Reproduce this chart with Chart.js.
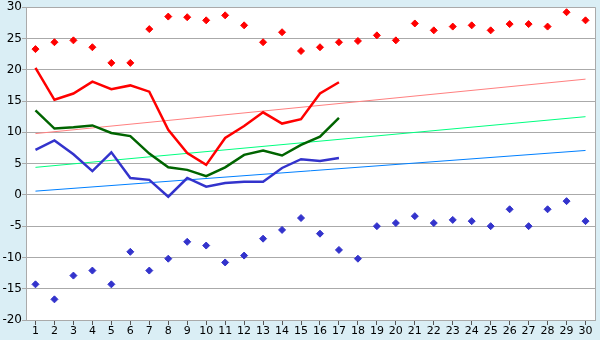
<!DOCTYPE html>
<html>
<head>
<meta charset="utf-8">
<script src="https://cdn.jsdelivr.net/npm/chart.js@4"></script>
<style>
  html, body { margin: 0; padding: 0; background: #daeef5; }
  #wrap { width: 600px; height: 340px; }
</style>
</head>
<body>
<div id="wrap"><canvas id="chart" width="600" height="340"></canvas></div>
<script>
// Days of the month
const days = ['1','2','3','4','5','6','7','8','9','10','11','12','13','14','15',
              '16','17','18','19','20','21','22','23','24','25','26','27','28','29','30'];

// Record highs / lows (diamonds)
const recordMax = [23.3, 24.4, 24.7, 23.6, 21.1, 21.1, 26.5, 28.5, 28.4, 27.9,
                   28.7, 27.1, 24.4, 26.0, 23.0, 23.6, 24.4, 24.6, 25.5, 24.7,
                   27.4, 26.3, 26.9, 27.1, 26.3, 27.3, 27.3, 26.9, 29.2, 27.9];
const recordMin = [-14.3, -16.7, -12.9, -12.1, -14.3, -9.1, -12.1, -10.2, -7.5, -8.1,
                   -10.8, -9.7, -7.0, -5.6, -3.7, -6.2, -8.8, -10.2, -5.0, -4.5,
                   -3.4, -4.5, -4.0, -4.2, -5.0, -2.3, -5.0, -2.3, -1.0, -4.2];

// Observed this month (days 1-17)
const tMax  = [20.3, 15.2, 16.2, 18.1, 16.9, 17.5, 16.5, 10.4, 6.7, 4.8,
               9.1, 11.0, 13.2, 11.4, 12.1, 16.2, 18.0];
const tMean = [13.5, 10.6, 10.8, 11.1, 9.9, 9.4, 6.6, 4.4, 4.0, 3.0,
               4.4, 6.4, 7.1, 6.3, 8.0, 9.3, 12.3];
const tMin  = [7.2, 8.7, 6.5, 3.8, 6.8, 2.7, 2.4, -0.3, 2.7, 1.3,
               1.9, 2.1, 2.1, 4.3, 5.7, 5.4, 5.9];

// Normal lines (value on day 1, value on day 30)
const normMax  = [9.8, 18.5];
const normMean = [4.4, 12.5];
const normMin  = [0.6, 7.1];

const yTicks = { min: -20, max: 30, step: 5 };

function endpoints(pair) {
    return days.map((d, i) => i === 0 ? pair[0] : (i === days.length - 1 ? pair[1] : null));
}

const frame = {
    id: 'frame',
    beforeDraw(chart) {
        const { ctx, chartArea: a } = chart;
        ctx.save();
        ctx.fillStyle = '#daeef5';
        ctx.fillRect(0, 0, chart.width, chart.height);
        ctx.fillStyle = '#ffffff';
        ctx.fillRect(a.left, a.top, a.right - a.left, a.bottom - a.top);
        ctx.restore();
    },
    afterDraw(chart) {
        const { ctx, chartArea: a } = chart;
        ctx.save();
        ctx.strokeStyle = '#aaaaaa';
        ctx.lineWidth = 1;
        ctx.beginPath();
        ctx.moveTo(Math.round(a.right) + 0.5, a.top);
        ctx.lineTo(Math.round(a.right) + 0.5, a.bottom);
        ctx.stroke();
        ctx.restore();
    }
};

const trend = (color, pair) => ({
    type: 'line', data: endpoints(pair), borderColor: color, borderWidth: 1,
    pointRadius: 0, spanGaps: true, order: 5
});
const line = (color, values) => ({
    type: 'line', data: values, borderColor: color, borderWidth: 2.5,
    pointRadius: 0, tension: 0, order: 2
});
const marks = (color, values) => ({
    type: 'line', data: values, showLine: false, pointStyle: 'rectRot',
    pointRadius: 3.5, backgroundColor: color, borderColor: color, borderWidth: 1, order: 1
});

new Chart(document.getElementById('chart'), {
    data: {
        labels: days,
        datasets: [
            trend('#ff8080', normMax),
            trend('#00ff80', normMean),
            trend('#0080ff', normMin),
            line('#ff0000', tMax),
            line('#006400', tMean),
            line('#3333cc', tMin),
            marks('#ff0000', recordMax),
            marks('#3333cc', recordMin)
        ]
    },
    options: {
        responsive: false,
        animation: false,
        layout: { padding: { top: 5, right: 4, left: 0, bottom: 0 } },
        plugins: { legend: { display: false }, tooltip: { enabled: false } },
        scales: {
            x: {
                type: 'category',
                offset: true,
                grid: { display: true, drawOnChartArea: false, offset: false, tickLength: 5, color: '#555555' },
                border: { color: '#aaaaaa' },
                ticks: { color: '#000', font: { family: 'DejaVu Sans', size: 11 }, padding: 0, maxRotation: 0, autoSkip: false },
                afterFit(s) { s.height = 20; }
            },
            y: {
                min: yTicks.min, max: yTicks.max,
                grid: { color: '#aaaaaa', drawTicks: true, tickLength: 4 },
                border: { color: '#aaaaaa' },
                ticks: { stepSize: yTicks.step, color: '#000', font: { family: 'DejaVu Sans', size: 12 }, padding: 0 },
                afterFit(s) { s.width = 26; }
            }
        }
    },
    plugins: [frame]
});
</script>
</body>
</html>
